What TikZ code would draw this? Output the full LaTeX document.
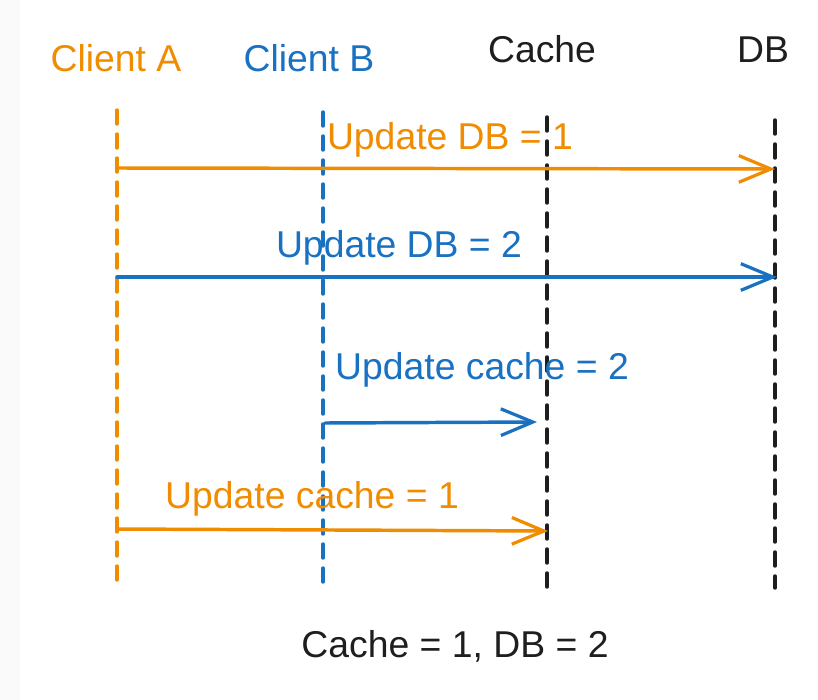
\documentclass[tikz,border=0pt]{standalone}
\usepackage{fontspec}
\setmainfont{Liberation Sans}
\usetikzlibrary{arrows.meta}
\definecolor{cOrange}{HTML}{F08C00}
\definecolor{cBlue}{HTML}{1971C2}
\definecolor{cInk}{HTML}{1E1E1E}
\definecolor{cStrip}{HTML}{FAFAFA}
\tikzset{
  lbl/.style={anchor=base, inner sep=0pt, font=\fontsize{28}{34}\selectfont},
  lifeline/.style={line width=2.6pt, dash pattern=on 10.5pt off 7.5pt, line cap=round},
  msg/.style={line width=2.6pt, line cap=round,
    -{Straight Barb[length=24pt,width=20pt,line width=2.4pt]}},
}
\begin{document}
\begin{tikzpicture}[x=0.75pt,y=-0.75pt]
\useasboundingbox (0,0) rectangle (818,700);
\fill[white] (0,0) rectangle (818,700);
\fill[cStrip] (0,0) rectangle (20,700);

% headers
\node[lbl, text=cOrange] (hA) at (116,71) {Client A};
\node[lbl, text=cBlue] (hB) at (309,71) {Client B};
\node[lbl, text=cInk] (hC) at (542,62) {Cache};
\node[lbl, text=cInk] (hD) at (763,62) {DB};

% lifelines
\coordinate (At) at (117,110); \coordinate (Ab) at (117,585);
\coordinate (Bt) at (323,112); \coordinate (Bb) at (323,585);
\coordinate (Ct) at (547,117); \coordinate (Cb) at (547,590);
\coordinate (Dt) at (775,120); \coordinate (Db) at (775,588);
\draw[lifeline, cOrange] (At) -- (Ab);
\draw[lifeline, cBlue] (Bt) -- (Bb);
\draw[lifeline, cInk] (Ct) -- (Cb);
\draw[lifeline, cInk] (Dt) -- (Db);

% messages
\coordinate (m1s) at (118,168); \coordinate (m1e) at (775,169);
\coordinate (m2s) at (117,277); \coordinate (m2e) at (777,277);
\coordinate (m3s) at (325,423); \coordinate (m3e) at (537,422);
\coordinate (m4s) at (117,529); \coordinate (m4e) at (548,531);
\draw[msg, cOrange] (m1s) -- (m1e);
\draw[msg, cBlue] (m2s) -- (m2e);
\draw[msg, cBlue] (m3s) -- (m3e);
\draw[msg, cOrange] (m4s) -- (m4e);

% labels
\node[lbl, text=cOrange] (l1) at (450,149) {Update DB = 1};
\node[lbl, text=cBlue] (l2) at (399,257) {Update DB = 2};
\node[lbl, text=cBlue] (l3) at (482,379) {Update cache = 2};
\node[lbl, text=cOrange] (l4) at (312,508) {Update cache = 1};

\node[lbl, text=cInk] (res) at (455,657) {Cache = 1, DB = 2};
\end{tikzpicture}
\end{document}
